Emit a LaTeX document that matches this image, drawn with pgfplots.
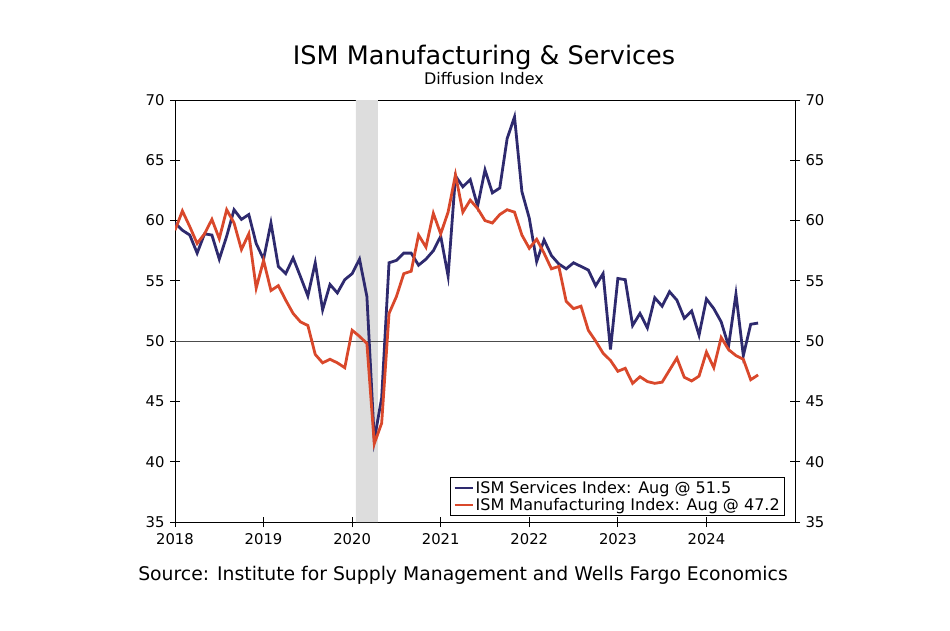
\documentclass[border=0pt]{standalone}
\usepackage{fontspec}
\setmainfont{DejaVu Sans}
\usepackage{pgfplots}
\pgfplotsset{compat=1.18}
\usepackage{pgfplotstable}

\definecolor{svc}{RGB}{46,42,110}
\definecolor{mfg}{RGB}{217,72,43}
\definecolor{shade}{RGB}{221,221,221}

\pgfplotstableread{
m svc mfg
0 59.8 59.2
1 59.2 60.8
2 58.8 59.5
3 57.3 58.1
4 58.9 58.9
5 58.8 60.1
6 56.8 58.5
7 58.7 60.9
8 60.9 59.8
9 60.1 57.6
10 60.5 58.9
11 58.1 54.4
12 56.8 56.7
13 59.8 54.2
14 56.2 54.6
15 55.6 53.4
16 56.9 52.3
17 55.35 51.6
18 53.75 51.3
19 56.5 48.9
20 52.6 48.2
21 54.7 48.5
22 54.0 48.2
23 55.1 47.8
24 55.6 50.9
25 56.8 50.4
26 53.7 49.8
27 41.8 41.5
28 45.3 43.2
29 56.5 52.3
30 56.7 53.7
31 57.3 55.6
32 57.3 55.8
33 56.3 58.8
34 56.8 57.8
35 57.5 60.6
36 58.7 58.9
37 55.4 60.7
38 63.7 63.8
39 62.8 60.7
40 63.4 61.7
41 61.2 61.0
42 64.2 60.0
43 62.3 59.8
44 62.7 60.5
45 66.8 60.9
46 68.6 60.7
47 62.4 58.8
48 60.2 57.7
49 56.6 58.45
50 58.4 57.3
51 57.1 56.0
52 56.4 56.2
53 56.0 53.3
54 56.5 52.7
55 56.2 52.9
56 55.9 50.9
57 54.6 50.0
58 55.6 49.0
59 49.3 48.4
60 55.2 47.5
61 55.1 47.75
62 51.3 46.5
63 52.3 47.05
64 51.1 46.65
65 53.6 46.5
66 52.9 46.6
67 54.1 47.6
68 53.4 48.6
69 51.9 47.0
70 52.5 46.7
71 50.5 47.1
72 53.5 49.1
73 52.7 47.8
74 51.6 50.3
75 49.6 49.3
76 53.9 48.8
77 48.8 48.5
78 51.4 46.8
79 51.5 47.2
}\data

\begin{document}
\begin{tikzpicture}
\useasboundingbox (0pt,0pt) rectangle (950pt,-630pt);
\begin{axis}[at={(175pt,-522pt)}, anchor=south west,
  width=620pt, height=422pt, scale only axis,
  xmin=0, xmax=84, ymin=35, ymax=70,
  xtick={0,12,24,36,48,60,72},
  xticklabels={2018,2019,2020,2021,2022,2023,2024},
  ytick={35,40,45,50,55,60,65,70},
  ytick pos=left, xtick pos=bottom,
  tick align=center, major tick length=10pt,
  tick style={black, line width=0.8pt},
  axis line style={black, line width=1pt},
  tick label style={font=\fontsize{14.8}{17}\selectfont},
  /pgf/number format/assume math mode=true,
  xticklabel style={yshift=-3pt},
  yticklabel style={xshift=-2pt},
  legend style={at={(0.984,0.014)}, anchor=south east,
    font=\fontsize{16}{19}\selectfont, draw=black, line width=0.8pt,
    inner xsep=3pt, inner ysep=1.5pt, row sep=-0.5pt},
  legend cell align=left,
  legend image code/.code={\draw[#1, line width=2.2pt] (0pt,0pt) -- (18pt,0pt);},
]
\addplot[fill=shade, draw=none, forget plot] coordinates {(24.5,35) (24.5,70) (27.5,70) (27.5,35)} \closedcycle;
\addplot[black!70, line width=1.3pt, forget plot] coordinates {(0,50) (84,50)};
\addplot[svc, line width=2.8pt] table[x=m,y=svc]{\data};
\addplot[mfg, line width=2.8pt] table[x=m,y=mfg]{\data};
\legend{ISM Services Index: Aug @ 51.5, ISM Manufacturing Index: Aug @ 47.2}
\end{axis}
\begin{axis}[at={(175pt,-522pt)}, anchor=south west,
  width=620pt, height=422pt, scale only axis,
  xmin=0, xmax=84, ymin=35, ymax=70,
  axis x line=none, axis y line*=right,
  ytick={35,40,45,50,55,60,65,70},
  tick align=center, major tick length=10pt,
  tick style={black, line width=0.8pt},
  axis line style={black, line width=1pt, -},
  tick label style={font=\fontsize{14.8}{17}\selectfont},
  /pgf/number format/assume math mode=true,
  yticklabel style={xshift=2pt},
]
\end{axis}
\node[font=\fontsize{25.5}{30}\selectfont] at (484pt,-57pt) {ISM Manufacturing \& Services};
\node[font=\fontsize{16}{19}\selectfont] at (484pt,-79pt) {Diffusion Index};
\node[font=\fontsize{18.8}{22}\selectfont] at (463pt,-575pt) {Source: Institute for Supply Management and Wells Fargo Economics};
\end{tikzpicture}
\end{document}
